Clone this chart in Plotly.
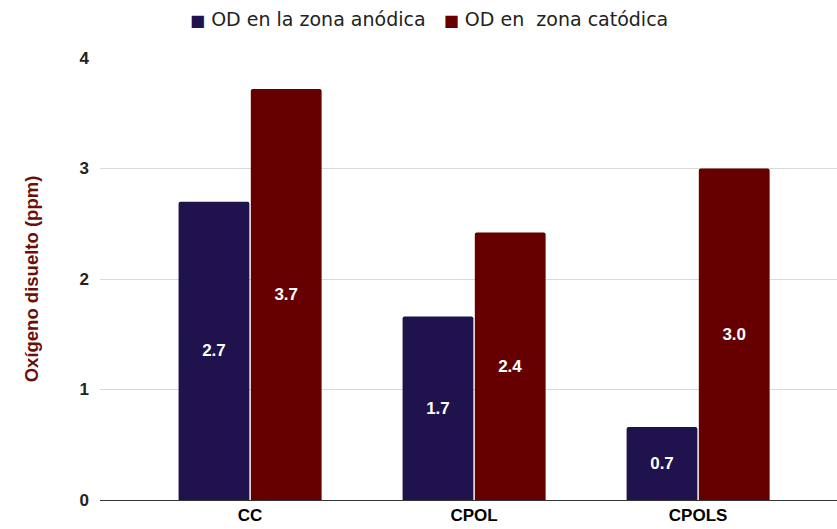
import plotly.graph_objects as go

categories = ["CC", "CPOL", "CPOLS"]
anodica = [2.70, 1.66, 0.66]
catodica = [3.72, 2.42, 3.00]
series_names = ["OD en la zona anódica", "OD en\u00a0 zona catódica"]
series_colors = ["#20124d", "#660000"]
y_ticks = [0, 1, 2, 3, 4]

label_font = dict(family="Liberation Sans, Arial", size=17, color="white")

fig = go.Figure()
for name, vals, color in zip(series_names, [anodica, catodica], series_colors):
    fig.add_trace(go.Bar(
        x=categories, y=vals, name=name,
        marker=dict(color=color, cornerradius=2, line=dict(width=0)),
        texttemplate="<b>%{y:.1f}</b>",
        textposition="inside",
        insidetextanchor="middle",
        textangle=0,
        textfont=label_font,
        hoverinfo="skip",
        showlegend=False,
    ))

# Legend row above the plot: coloured square + series name
legend_text = "\u00a0\u00a0\u00a0".join(
    f'<span style="color:{c};font-size:16px">■</span>\u00a0{n}'
    for n, c in zip(series_names, series_colors)
)
fig.add_annotation(
    text=legend_text, xref="paper", yref="paper",
    x=0.4464, y=1.088, xanchor="center", yanchor="middle",
    showarrow=False,
    font=dict(family="DejaVu Sans", size=19, color="#222222"),
)

fig.update_layout(
    width=837, height=529,
    margin=dict(l=100, r=0, t=58, b=29),
    paper_bgcolor="white", plot_bgcolor="white",
    barmode="group", bargap=0.355, bargroupgap=0.02,
    xaxis=dict(
        range=[-0.67, 2.62], showgrid=False, zeroline=False,
        showline=False, ticks="",
        tickfont=dict(family="Liberation Sans, Arial", size=17, color="#000000",
                      weight="bold"),
        ticklabelstandoff=3,
    ),
    yaxis=dict(
        range=[0, 4], tickvals=y_ticks,
        showgrid=True, gridcolor="#d9d9d9", gridwidth=1,
        zeroline=True, zerolinecolor="#333333", zerolinewidth=1,
        showline=False, ticks="", ticklabelstandoff=10,
        tickfont=dict(family="Liberation Sans, Arial", size=17, color="#222222",
                      weight="bold"),
        title=dict(
            text="<b>Oxígeno disuelto (ppm)</b>", standoff=36,
            font=dict(family="Liberation Sans, Arial", size=18.5, color="#6b0f0a"),
        ),
    ),
)

fig.write_html("out.html")
